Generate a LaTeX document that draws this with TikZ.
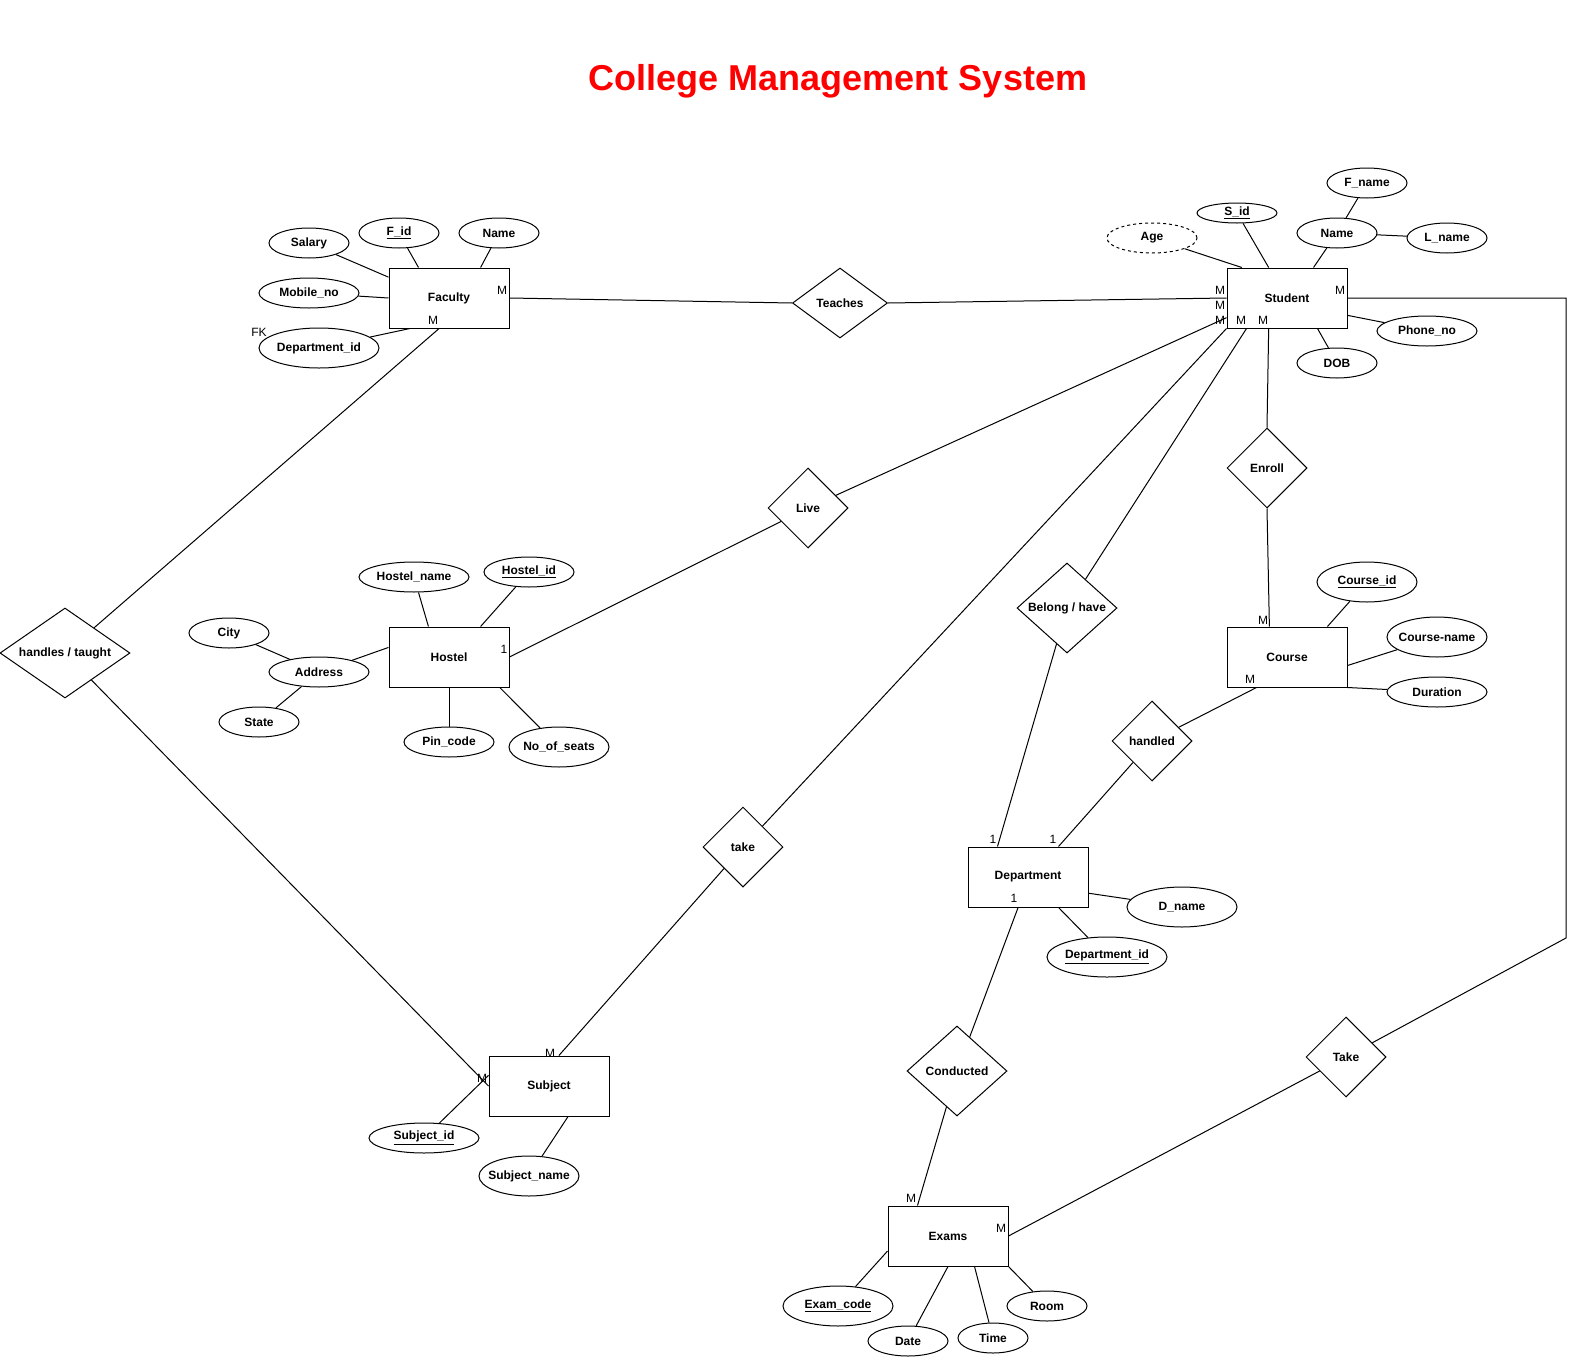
\documentclass[tikz,border=0pt]{standalone}
\usepackage{fontspec}
\setmainfont{Liberation Sans}
\usetikzlibrary{shapes.geometric}
\definecolor{titlered}{RGB}{255,0,0}

\begin{document}
\begin{tikzpicture}[
  x=0.75pt, y=-0.75pt, line width=0.75pt,
  lbl/.style={font=\fontsize{9}{10}\selectfont\bfseries},
  ent/.style={lbl, draw, rectangle, minimum width=90pt, minimum height=45pt, inner sep=0pt},
  rel/.style={lbl, draw, diamond, aspect=1, inner sep=0pt, minimum width=60pt, minimum height=60pt},
  attr/.style={lbl, draw, ellipse, inner ysep=0pt, inner xsep=-6pt, minimum width=60pt, minimum height=22.5pt},
  derived/.style={attr, dashed, dash pattern=on 2.25pt off 2.25pt},
  card/.style={inner sep=0pt, font=\fontsize{9}{10}\selectfont}
]
\useasboundingbox (0,0) rectangle (1572,1360);

\node[font=\fontsize{27}{32}\selectfont\bfseries, text=titlered] (title) at (838,81) {College Management System};

% entities
\node[ent] (fac) at (449,298) {Faculty};
\node[ent] (stu) at (1287,298) {Student};
\node[ent] (hos) at (449,657) {Hostel};
\node[ent] (cou) at (1287,657) {Course};
\node[ent] (dep) at (1028,877) {Department};
\node[ent] (sub) at (549,1086) {Subject};
\node[ent] (exa) at (948,1236) {Exams};

% relationships
\node[rel, aspect=1.35, minimum width=71.25pt, minimum height=52.5pt] (teaches) at (840,303) {Teaches};
\node[rel] (live) at (808,508) {Live};
\node[rel] (enroll) at (1267,468) {Enroll};
\node[rel, aspect=1.1, minimum width=75pt, minimum height=67.5pt] (belong) at (1067,608) {Belong / have};
\node[rel] (handled) at (1152,741) {handled};
\node[rel] (take) at (743,847) {take};
\node[rel, aspect=1.45, minimum width=97.5pt, minimum height=67.5pt] (taught) at (65,653) {handles / taught};
\node[rel, aspect=1.1, minimum width=75pt, minimum height=67.5pt] (conducted) at (957,1071) {Conducted};
\node[rel] (takes) at (1346,1057) {Take};

% faculty attributes
\node[attr] (salary) at (309,243) {Salary};
\node[attr] (fid) at (399,233) {\underline{F\_id}};
\node[attr] (fname) at (499,233) {Name};
\node[attr, minimum width=75pt] (mobile) at (309,293) {Mobile\_no};
\node[attr, minimum width=90pt, minimum height=30pt] (fdept) at (319,348) {Department\_id};

% student attributes
\node[derived, minimum width=67.5pt] (age) at (1152,238) {Age};
\node[attr, minimum height=15pt] (sid) at (1237,213) {\underline{S\_id}};
\node[attr] (sname) at (1337,233) {Name};
\node[attr] (first) at (1367,183) {F\_name};
\node[attr] (last) at (1447,238) {L\_name};
\node[attr, minimum width=75pt] (phone) at (1427,331) {Phone\_no};
\node[attr] (dob) at (1337,363) {DOB};

% hostel attributes
\node[attr, minimum width=82.5pt] (hname) at (414,577) {Hostel\_name};
\node[attr, minimum width=67.5pt] (hid) at (529,572) {\underline{Hostel\_id}};
\node[attr] (city) at (229,633) {City};
\node[attr, minimum width=75pt] (addr) at (319,672) {Address};
\node[attr] (state) at (259,722) {State};
\node[attr, minimum width=67.5pt] (pin) at (449,742) {Pin\_code};
\node[attr, minimum width=75pt, minimum height=30pt] (seats) at (559,747) {No\_of\_seats};

% course attributes
\node[attr, minimum width=75pt, minimum height=30pt] (cid) at (1367,582) {\underline{Course\_id}};
\node[attr, minimum width=75pt, minimum height=30pt] (cname) at (1437,637) {Course-name};
\node[attr, minimum width=75pt] (dur) at (1437,692) {Duration};

% department attributes
\node[attr, minimum width=82.5pt, minimum height=30pt] (dname) at (1182,907) {D\_name};
\node[attr, minimum width=90pt, minimum height=30pt] (did) at (1107,957) {\underline{Department\_id}};

% subject attributes
\node[attr, minimum width=82.5pt] (subid) at (424,1138) {\underline{Subject\_id}};
\node[attr, minimum width=75pt, minimum height=30pt] (subname) at (529,1176) {Subject\_name};

% exams attributes
\node[attr, minimum width=82.5pt, minimum height=30pt] (ecode) at (838,1306) {\underline{Exam\_code}};
\node[attr] (date) at (908,1341) {Date};
\node[attr, minimum width=52.5pt] (time) at (993,1338) {Time};
\node[attr] (room) at (1047,1306) {Room};

% attribute lines
\draw (salary) -- (fac.161);
\draw (fid) -- (fac.135);
\draw (fname) -- (fac.44);
\draw (mobile) -- (fac.west);
\draw (fdept) -- (fac.218);
\draw (age) -- (stu.146);
\draw (sid) -- (stu.121);
\draw (sname) -- (stu.49);
\draw (sname) -- (first);
\draw (sname) -- (last);
\draw (phone) -- (stu.344);
\draw (dob) -- (stu.315);
\draw (hname) -- (hos.124);
\draw (hid) -- (hos.44);
\draw (addr) -- (hos.171);
\draw (addr) -- (city);
\draw (addr) -- (state);
\draw (pin) -- (hos.south);
\draw (seats) -- (hos.329);
\draw (cid) -- (cou.37);
\draw (cname) -- (cou.352);
\draw (dur) -- (cou.south east);
\draw (dname) -- (dep.345);
\draw (did) -- (dep.315);
\draw (subid) -- (sub.170);
\draw (subname) -- (sub.302);
\draw (ecode) -- (exa.194);
\draw (date) -- (exa.south);
\draw (time) -- (exa.311);
\draw (room) -- (exa.south east);

% relationship lines
\draw (fac.east) -- (teaches.west);
\draw (teaches.east) -- (stu.west);
\draw (fac.252) -- (taught);
\draw (taught) -- (sub.west);
\draw (hos.east) -- (live);
\draw (live) -- (stu.198);
\draw (take) -- (stu.south west);
\draw (take) -- (sub.72);
\draw (belong) -- (stu.217);
\draw (belong) -- (dep.135);
\draw (stu.239) -- (enroll.north);
\draw (enroll.south) -- (cou.120);
\draw (handled) -- (cou.225);
\draw (handled) -- (dep.45);
\draw (dep.252) -- (conducted);
\draw (conducted) -- (exa.135);
\coordinate (c1) at (1566,298);
\coordinate (c2) at (1566,938);
\draw (stu.east) -- (c1) -- (c2) -- (takes);
\draw (takes) -- (exa.east);

% cardinalities
\node[card] (m1) at (502,290) {M};
\node[card] (m2) at (433,320) {M};
\node[card] (fk) at (259,332) {FK};
\node[card] (m3) at (1220,290) {M};
\node[card] (m4) at (1220,305) {M};
\node[card] (m5) at (1220,320) {M};
\node[card] (m6) at (1241,320) {M};
\node[card] (m7) at (1263,320) {M};
\node[card] (m8) at (1340,290) {M};
\node[card] (o1) at (504,649) {1};
\node[card] (m9) at (1263,620) {M};
\node[card] (m10) at (1250,679) {M};
\node[card] (o2) at (993,839) {1};
\node[card] (o3) at (1053,839) {1};
\node[card] (o4) at (1014,898) {1};
\node[card] (m11) at (550,1053) {M};
\node[card] (m12) at (482,1078) {M};
\node[card] (m13) at (911,1198) {M};
\node[card] (m14) at (1001,1228) {M};
\end{tikzpicture}
\end{document}
